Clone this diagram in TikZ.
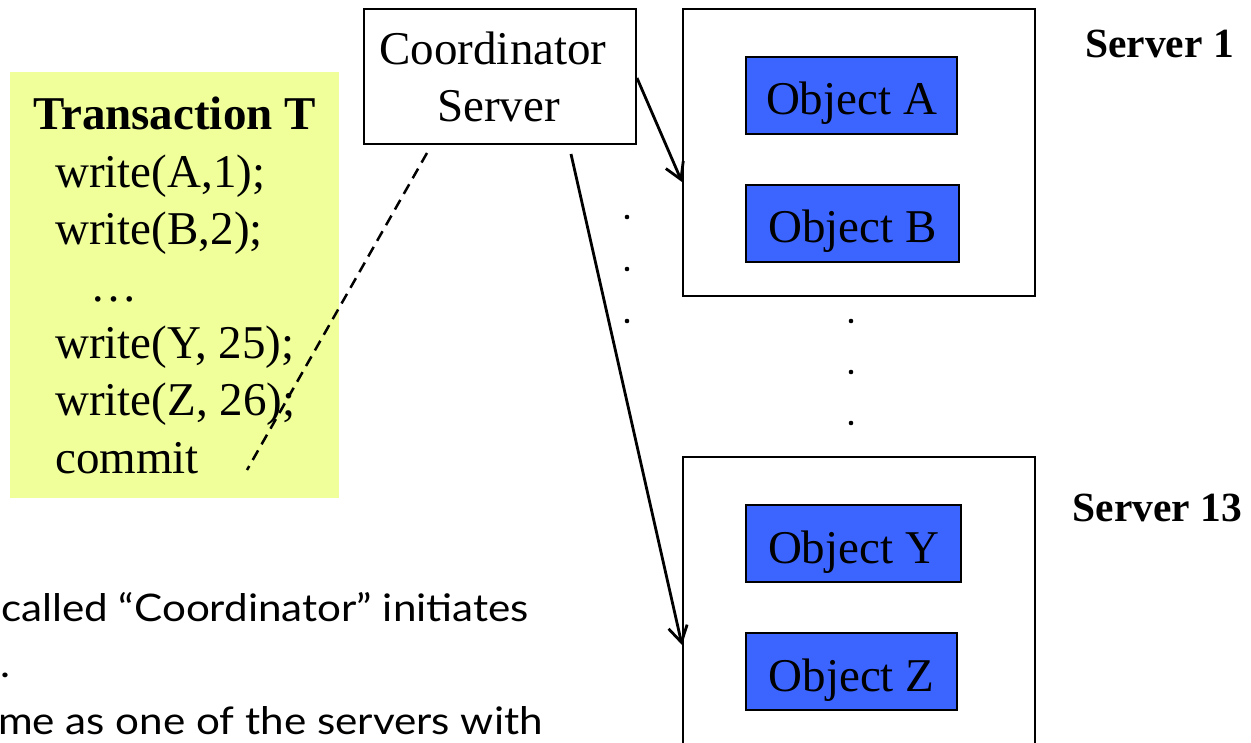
\documentclass[tikz,border=0pt]{standalone}
\usepackage{fontspec}
\setmainfont{Liberation Serif}
\newfontfamily\notefont[FakeStretch=1.11]{Lato}
\usetikzlibrary{arrows.meta}
\definecolor{memo}{RGB}{240,255,153}
\definecolor{objblue}{RGB}{60,100,255}
\begin{document}
\begin{tikzpicture}[x=1pt,y=-1pt,
  frame/.style={draw=black, line width=2pt, anchor=north west, inner sep=0pt},
  memobox/.style={fill=memo, anchor=north west, inner sep=0pt},
  objbox/.style={frame, fill=objblue, minimum height=77pt,
                 text height=39pt, text depth=0pt, font=\fontsize{47}{57}\selectfont},
  big/.style={inner sep=0pt, font=\fontsize{47}{57}\selectfont},
  bigbold/.style={inner sep=0pt, font=\fontsize{47}{57}\selectfont\bfseries},
  srvlabel/.style={inner sep=0pt, anchor=base, font=\fontsize{41.5}{50}\selectfont\bfseries},
  note/.style={inner sep=0pt, anchor=base west, font=\notefont\fontsize{38}{46}\selectfont},
  conn/.style={line width=2.8pt, -{Straight Barb[length=16pt,width=19pt,line width=2.8pt]}},
  link/.style={line width=2.5pt, dash pattern=on 11pt off 7pt},
  dotmark/.style={fill=black}]
\useasboundingbox (0,0) rectangle (1251,743);
\clip (0,0) rectangle (1251,743);

% transaction listing
\node[memobox, minimum width=329pt, minimum height=426pt] (memo) at (10,72) {};
\node[bigbold, anchor=base] (title) at (174.5,130) {Transaction T};
\node[big, anchor=base west] (w1) at (55,188) {write(A,1);};
\node[big, anchor=base west] (w2) at (55,245) {write(B,2);};
\node[big, anchor=base west] (gap) at (90,302) {…};
\node[big, anchor=base west] (w3) at (55,359) {write(Y, 25);};
\node[big, anchor=base west] (w4) at (55,416) {write(Z, 26);};
\node[big, anchor=base west] (cm) at (55,473) {commit};

% coordinator
\node[frame, fill=white, minimum width=272pt, minimum height=135pt] (coord) at (363,8) {};
\node[big, anchor=base] (ct1) at (493,65) {Coordinator};
\node[big, anchor=base] (ct2) at (498.5,122) {Server};

% servers and their objects
\node[frame, minimum width=352pt, minimum height=287pt] (s1) at (682,8) {};
\node[frame, minimum width=352pt, minimum height=310pt] (s13) at (682,456) {};
\node[objbox, minimum width=211pt] (oa) at (745,56) {Object A};
\node[objbox, minimum width=213pt] (ob) at (745,184) {Object B};
\node[objbox, minimum width=215pt] (oy) at (745,504) {Object Y};
\node[objbox, minimum width=211pt] (oz) at (745,632) {Object Z};
\node[srvlabel] (lab1) at (1159.5,58) {Server 1};
\node[srvlabel] (lab13) at (1157.5,521) {Server 13};

% ellipsis dots
\foreach \yy in {217,269,321} \fill[dotmark] (627,\yy) circle (2.3pt);
\foreach \yy in {321,372,423} \fill[dotmark] (851,\yy) circle (2.3pt);

% connectors
\coordinate (linkend) at (247,470);
\draw[link] ([xshift=64pt,yshift=-8pt]coord.south west) -- (linkend);
\draw[conn] ([yshift=-70pt]coord.north east) -- ([yshift=-174pt]s1.north west);
\draw[conn] ([xshift=208pt,yshift=-9pt]coord.south west) -- ([yshift=-189pt]s13.north west);

% notes below
\node[note] (n1) at (1,621) {called “Coordinator” initiates};
\node[note] (n2) at (0,677) {.};
\node[note] (n3) at (-2,734) {me as one of the servers with};
\end{tikzpicture}
\end{document}
